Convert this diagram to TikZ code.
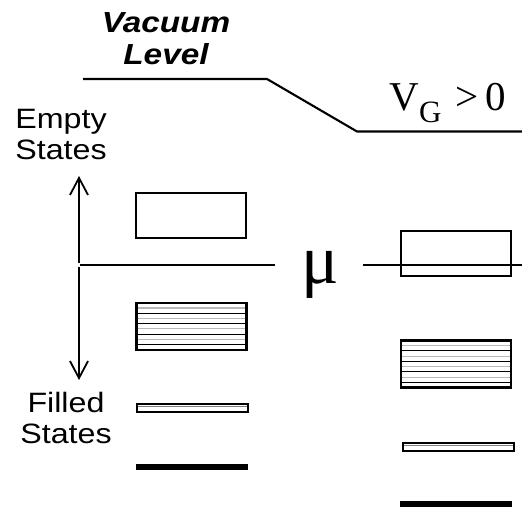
\documentclass[tikz,border=0pt]{standalone}
\usepackage{fontspec}
\setmainfont{Liberation Serif}
\newfontfamily\helv{Liberation Sans}
\usetikzlibrary{arrows.meta,positioning,calc}
\tikzset{
  >={Straight Barb[length=17pt,width=18pt]},
  band/.style={draw,line width=2.4pt,minimum width=110pt,minimum height=45pt,
               inner sep=0pt,outer sep=0pt},
  filledband/.style={band,minimum height=47pt,
    path picture={
      \foreach \k in {1,3,5,7}
        \draw[gray!55,line width=1.1pt]
          ($(path picture bounding box.north west)!{\k/9}!(path picture bounding box.south west)$) --
          ($(path picture bounding box.north east)!{\k/9}!(path picture bounding box.south east)$);
      \foreach \k in {2,4,6,8}
        \draw[black,line width=0.9pt]
          ($(path picture bounding box.north west)!{\k/9}!(path picture bounding box.south west)$) --
          ($(path picture bounding box.north east)!{\k/9}!(path picture bounding box.south east)$);
    }},
  thinband/.style={band,line width=2.2pt,minimum width=111pt,minimum height=8.5pt,
    path picture={
      \draw[gray,line width=1.3pt]
        ($(path picture bounding box.north west)!0.3!(path picture bounding box.south west)$) --
        ($(path picture bounding box.north east)!0.3!(path picture bounding box.south east)$);
    }},
  coreband/.style={fill=black,minimum width=112pt,minimum height=6pt,inner sep=0pt},
  lab/.style={font=\helv\fontsize{28}{31}\selectfont,align=center,xscale=1.15},
  level/.style={line width=2.1pt},
  arr/.style={->,line width=1.8pt},
}

\begin{document}
\begin{tikzpicture}[x=1pt,y=-1pt]
  \useasboundingbox (0,0) rectangle (522,506);

  % vacuum level, bent by the gate voltage
  \coordinate (vacL) at (83,79);
  \coordinate (vacB) at (267,79);
  \coordinate (vacK) at (357,131.5);
  \coordinate (vacR) at (522,131.5);
  \draw[level] (vacL) -- (vacB) -- (vacK) -- (vacR);
  \node[lab,font=\helv\bfseries\itshape\fontsize{29}{32}\selectfont,xscale=1.0] (vac) at (166,39) {Vacuum\\Level};
  \node[anchor=base west,font=\fontsize{41}{41}\selectfont] (vg) at (386,110)
    {V\raisebox{-0.3em}{\fontsize{31}{31}\selectfont G}\,\,>\,0};

  % chemical potential and energy axis
  \coordinate (org) at (79,265);
  \coordinate (muL) at (80,265);
  \coordinate (muM) at (275,265);
  \coordinate (muN) at (363,265);
  \coordinate (muR) at (522,265);
  \coordinate (top) at (79,176);
  \coordinate (bot) at (79,380);
  \draw[level] (muL) -- (muM);
  \draw[level] (muN) -- (muR);
  \node[font=\fontsize{70}{70}\selectfont] (mu) at (320,275) {μ};
  \draw[arr] ($(org)+(0,-2)$) -- (top);
  \draw[arr] ($(org)+(0,2)$) -- (bot);
  \node[lab] (empty) at (61,135) {Empty\\States};
  \node[lab] (filled) at (66,418) {Filled\\States};

  % levels of the dot, V_G = 0
  \node[band]       (e1) at (191,215.5) {};
  \node[filledband] (f1) at (191.5,326.3) {};
  \node[thinband]   (t1) at (192.5,408) {};
  \node[coreband]   (c1) at (192,467) {};

  % levels of the dot, V_G > 0
  \node[band]       (e2) at (456,253.5) {};
  \node[filledband] (f2) at (456,364) {};
  \node[thinband]   (t2) at (458.5,447) {};
  \node[coreband]   (c2) at (456,503.5) {};
\end{tikzpicture}
\end{document}
